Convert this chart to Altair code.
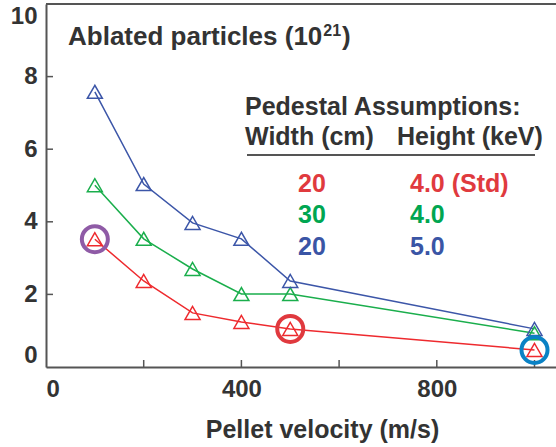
import altair as alt
import pandas as pd

# ---- data ----
velocity = [100, 200, 300, 400, 500, 1000]
red_std = [3.52, 2.37, 1.49, 1.24, 1.05, 0.47]
green_w30 = [5.01, 3.53, 2.70, 2.01, 2.01, 0.93]
blue_h5 = [7.58, 5.04, 3.97, 3.53, 2.37, 1.05]

series_names = ["20 cm, 4.0 keV (Std)", "30 cm, 4.0 keV", "20 cm, 5.0 keV"]
series_colors = ["#ee2a2e", "#1aae4c", "#3c56a8"]

legend_width = ["20", "30", "20"]
legend_height = ["4.0 (Std)", "4.0", "5.0"]
legend_text_colors = ["#e03a3e", "#00a651", "#3a55a5"]

highlight_x = [100, 500, 1000]
highlight_y = [3.52, 1.05, 0.47]
highlight_colors = ["#8f5ba6", "#e0393e", "#0a82c5"]

x_ticks = [200, 400, 600, 800, 1000]
x_labels = [0, 400, 800]
y_ticks = [2, 4, 6, 8]
y_labels = [0, 2, 4, 6, 8, 10]

FONT = "Liberation Sans"
TXT = "#333333"
AX = "#555555"
W, H = 510, 363

rows = []
for name, vals in zip(series_names, [red_std, green_w30, blue_h5]):
    for v, y in zip(velocity, vals):
        rows.append({"series": name, "velocity": v, "value": y})
df = pd.DataFrame(rows)

hl = pd.DataFrame({"velocity": highlight_x, "value": highlight_y, "hcol": highlight_colors})

xs = alt.Scale(domain=[0, 1044], nice=False, zero=False)
ys = alt.Scale(domain=[0, 10], nice=False)

xaxis = alt.Axis(values=x_labels, ticks=False, grid=False, domainColor=AX, domainWidth=2,
                 labelFont=FONT, labelFontWeight="bold", labelFontSize=24, labelColor=TXT,
                 labelPadding=10, title="Pellet velocity (m/s)", titleFont=FONT,
                 titleFontWeight="bold", titleFontSize=25, titleColor=TXT,
                 titleX=276, titleY=70, titleBaseline="alphabetic")
yaxis = alt.Axis(values=y_labels, ticks=False, grid=False, domainColor=AX, domainWidth=2,
                 labelFont=FONT, labelFontWeight="bold", labelFontSize=24, labelColor=TXT,
                 labelPadding=9, labelFlush=True, title=None)

X = alt.X("velocity:Q", scale=xs, axis=xaxis)
Y = alt.Y("value:Q", scale=ys, axis=yaxis)
C = alt.Color("series:N", scale=alt.Scale(domain=series_names, range=series_colors), legend=None)

lines = alt.Chart(df).mark_line(strokeWidth=1.5).encode(x=X, y=Y, color=C)
points = alt.Chart(df).mark_point(shape="triangle-up", filled=False, size=225,
                                  strokeWidth=1.5, opacity=1).encode(x=X, y=Y, color=C)
circles = alt.Chart(hl).mark_point(shape="circle", filled=False, size=676,
                                   strokeWidth=4, opacity=1).encode(
    x=X, y=Y, stroke=alt.Stroke("hcol:N", scale=None))

xt = alt.Chart(pd.DataFrame({"velocity": x_ticks})).mark_rule(color=AX, strokeWidth=1.5).encode(
    x=X, y=alt.value(H), y2=alt.value(H - 7))
yt = alt.Chart(pd.DataFrame({"value": y_ticks})).mark_rule(color=AX, strokeWidth=1.5).encode(
    y=Y, x=alt.value(0), x2=alt.value(7))

one = alt.Data(values=[{"k": 1}])
top_border = alt.Chart(one).mark_rule(color=AX, strokeWidth=2).encode(
    x=alt.value(0), x2=alt.value(W), y=alt.value(0))
underline = alt.Chart(one).mark_rule(color=AX, strokeWidth=2).encode(
    x=alt.value(201), x2=alt.value(489), y=alt.value(151))


def txt(s, x, y, color=TXT, size=25):
    return alt.Chart(one).mark_text(text=s, align="left", baseline="alphabetic", font=FONT,
                                    fontWeight="bold", fontSize=size, color=color).encode(
        x=alt.value(x), y=alt.value(y))


# "Ablated particles (10^21)" with a real superscript
t_main = "Ablated particles (10"
main_w = 9.781 * 26  # Arial/Liberation Sans Bold advance widths
sup_w = 2 * 0.556 * 16
texts = [
    txt(t_main, 22, 41, size=26),
    txt("21", 22 + main_w + 1, 32, size=16),
    txt(")", 22 + main_w + sup_w + 2, 41, size=26),
    txt("Pedestal Assumptions:", 199, 111),
    txt("Width (cm)", 199, 141),
    txt("Height (keV)", 351, 141),
]
row_y = [188, 219, 251]
for wv, hv, col, yy in zip(legend_width, legend_height, legend_text_colors, row_y):
    texts.append(txt(wv, 252, yy, color=col))
    texts.append(txt(hv, 364, yy, color=col))

chart = alt.layer(lines, points, xt, yt, top_border, underline, circles, *texts).properties(
    width=W, height=H,
    autosize=alt.AutoSizeParams(type="none"),
    padding={"left": 46, "top": 4, "right": 0, "bottom": 80},
).configure_view(stroke=None).configure(background="white")

chart.save("out.html", embed_options={"renderer": "svg", "actions": False})
